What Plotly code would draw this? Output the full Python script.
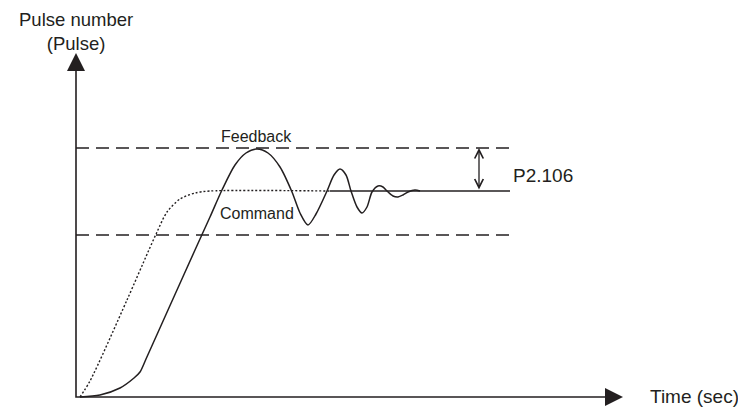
import plotly.graph_objects as go

# ---- data (time units / pulse units, origin at 0) ----
command_t = [4, 14, 51, 72, 81, 91, 104, 119, 134, 254]
command_p = [0, 16, 97, 145, 165, 185, 198, 204, 206, 206]

settled_t = [254, 434]
settled_p = [206, 206]

feedback_t = [4, 24, 44, 58, 64, 70, 92, 119, 134, 146, 159, 170, 181, 192, 204, 216, 224, 232,
              240, 251, 258, 264, 270, 275, 281, 286, 291, 296, 302, 307, 311, 317, 322,
              327, 332, 339, 344]
feedback_p = [0, 2, 9, 19, 25, 38, 87, 147, 180, 207, 232, 244, 248, 244, 230, 205, 184, 172,
              183, 206, 222, 228, 222, 206, 190, 184, 190, 205, 211, 210, 206, 201, 200,
              202, 205, 207, 206]

band_t = [0, 436]
band_upper = 249
band_lower = 162

x_axis_end = 547
y_axis_end = 344
tolerance_t = 403

ink = "#231f20"
font_family = "Liberation Sans, Arial, Helvetica, sans-serif"

fig = go.Figure()

# tolerance band (dashed)
for level in (band_upper, band_lower):
    fig.add_trace(go.Scatter(x=band_t, y=[level, level], mode="lines",
                             line=dict(color=ink, width=1.3, dash="13px,7px"),
                             hoverinfo="skip", showlegend=False))

# command (dotted)
fig.add_trace(go.Scatter(x=command_t, y=command_p, mode="lines",
                         line=dict(color=ink, width=1.4, dash="2px,2px", shape="spline", smoothing=0.8),
                         hoverinfo="skip", showlegend=False))
fig.add_trace(go.Scatter(x=settled_t, y=settled_p, mode="lines",
                         line=dict(color=ink, width=1.4),
                         hoverinfo="skip", showlegend=False))

# feedback (solid)
fig.add_trace(go.Scatter(x=feedback_t, y=feedback_p, mode="lines",
                         line=dict(color=ink, width=1.5, shape="spline", smoothing=0.8),
                         hoverinfo="skip", showlegend=False))

# axes lines
fig.add_trace(go.Scatter(x=[0, 0, x_axis_end - 8], y=[y_axis_end - 8, 0, 0], mode="lines",
                         line=dict(color=ink, width=1.6),
                         hoverinfo="skip", showlegend=False))
# axis arrowheads
fig.add_trace(go.Scatter(x=[0], y=[y_axis_end], mode="markers",
                         marker=dict(symbol="arrow-up", size=18, color=ink, line=dict(width=0)),
                         hoverinfo="skip", showlegend=False))
fig.add_trace(go.Scatter(x=[x_axis_end], y=[0], mode="markers",
                         marker=dict(symbol="arrow-right", size=18, color=ink, line=dict(width=0)),
                         hoverinfo="skip", showlegend=False))

annotations = [
    # double arrow for P2.106
    dict(x=tolerance_t, y=band_upper, ax=tolerance_t, ay=settled_p[0],
         xref="x", yref="y", axref="x", ayref="y", text="", showarrow=True,
         arrowside="end+start", arrowhead=5, startarrowhead=5,
         arrowsize=1.3, startarrowsize=1.3, arrowwidth=1.3, arrowcolor=ink,
         standoff=0, startstandoff=0),
    dict(x=0, y=366, xref="x", yref="y", text="Pulse number<br>(Pulse)", showarrow=False,
         xanchor="center", yanchor="middle", borderpad=0,
         font=dict(size=18.5, color=ink, family=font_family)),
    dict(x=572, y=1, xref="x", yref="y", text="Time (sec)", showarrow=False,
         xanchor="left", yanchor="middle", font=dict(size=19, color=ink, family=font_family)),
    dict(x=180, y=261, xref="x", yref="y", text="Feedback", showarrow=False,
         xanchor="center", yanchor="middle", font=dict(size=16, color=ink, family=font_family)),
    dict(x=181, y=184, xref="x", yref="y", text="Command", showarrow=False,
         xanchor="center", yanchor="middle", font=dict(size=16, color=ink, family=font_family)),
    dict(x=435, y=222, xref="x", yref="y", text="P2.106", showarrow=False,
         xanchor="left", yanchor="middle", font=dict(size=19, color=ink, family=font_family)),
]

# the page body adds an 8px margin, so the figure is 8px smaller than the window
fig.update_layout(
    width=738, height=404,
    margin=dict(l=0, r=0, t=0, b=0),
    paper_bgcolor="white", plot_bgcolor="white",
    xaxis=dict(range=[-68, 670], visible=False, fixedrange=True),
    yaxis=dict(range=[-15, 389], visible=False, fixedrange=True),
    annotations=annotations,
    showlegend=False,
)

fig.write_html("out.html")
